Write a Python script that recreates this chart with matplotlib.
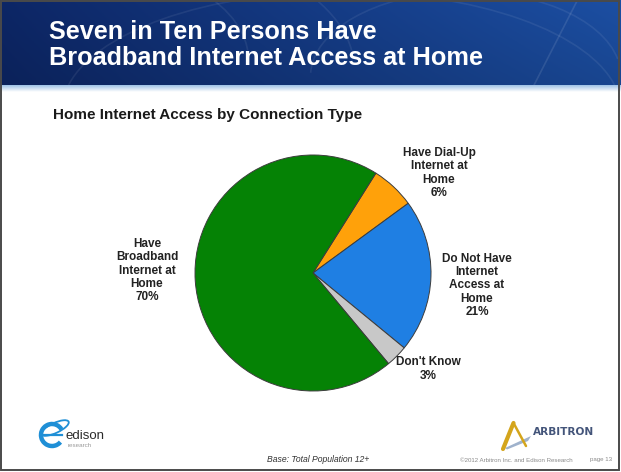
import numpy as np
import matplotlib
matplotlib.use("Agg")
import matplotlib.pyplot as plt
from matplotlib.patches import Rectangle, Arc, Ellipse, Polygon
from matplotlib.lines import Line2D

# ---- data ----
categories = ["Have Dial-Up\nInternet at\nHome",
              "Do Not Have\nInternet\nAccess at\nHome",
              "Don't Know",
              "Have\nBroadband\nInternet at\nHome"]
shares = [6, 21, 3, 70]
slice_colors = ["#ffa10a", "#1f7fe3", "#c8c8c8", "#058205"]

title_lines = ["Seven in Ten Persons Have", "Broadband Internet Access at Home"]
subtitle = "Home Internet Access by Connection Type"
base_note = "Base: Total Population 12+"
copyright_note = "\u00a92012 Arbitron Inc. and Edison Research"
page_note = "page 13"

W, H = 621, 472
fig = plt.figure(figsize=(W / 100, H / 100), dpi=100)
fig.patch.set_facecolor("white")
FONT = "Liberation Sans"


def fx(x):
    return x / W


def fy(y):
    return 1 - y / H


# ---- header band ----
hdr = fig.add_axes([0, fy(85), 1, 85 / H])
hdr.set_axis_off()
gx = np.linspace(0, 1, 256)
gy = np.linspace(0, 1, 64)
GX, GY = np.meshgrid(gx, gy)
left = np.array([0.05, 0.15, 0.40])
right = np.array([0.11, 0.31, 0.64])
t = GX[..., None]
img = left * (1 - t) + right * t
img = img * (0.88 + 0.12 * GY[..., None])
hdr.imshow(img, extent=[0, 1, 0, 1], aspect="auto", origin="lower")
for cx, cy, w, h, a1, a2 in [(0.10, 0.3, 0.6, 2.4, 20, 160),
                              (0.12, 0.2, 0.9, 3.2, 25, 150),
                              (0.55, -0.3, 0.9, 2.8, 30, 150),
                              (0.75, 0.1, 0.5, 2.0, 40, 170)]:
    hdr.add_patch(Arc((cx, cy), w, h, theta1=a1, theta2=a2,
                      color="white", alpha=0.07, lw=1.2))
hdr.add_line(Line2D([0.86, 0.93], [0.0, 1.0], color="white", alpha=0.1, lw=1.2))
hdr.set_xlim(0, 1)
hdr.set_ylim(0, 1)

strip = fig.add_axes([0, fy(92), 1, 7 / H])
strip.set_axis_off()
sv = np.linspace(0, 1, 32)[:, None, None]
top_c = np.array([0.62, 0.76, 0.90])
strip.imshow(top_c * sv + np.ones(3) * (1 - sv), extent=[0, 1, 0, 1],
             aspect="auto", origin="lower")

fig.text(fx(49), fy(32), title_lines[0], color="white", fontsize=18.2,
         fontweight="bold", family=FONT, ha="left", va="center")
fig.text(fx(49), fy(58), title_lines[1], color="white", fontsize=18.2,
         fontweight="bold", family=FONT, ha="left", va="center")

fig.text(fx(53), fy(115), subtitle, color="#1a1a1a", fontsize=11,
         fontweight="bold", family=FONT, ha="left", va="center")

# ---- pie ----
cx, cy, r = 313, 273, 118
ax = fig.add_axes([fx(cx - r), fy(cy + r), 2 * r / W, 2 * r / H])
ax.pie(shares, colors=slice_colors, startangle=57.8, counterclock=False,
       radius=1.0, wedgeprops=dict(edgecolor="#3c3c3c", linewidth=0.7))
ax.set_xlim(-1, 1)
ax.set_ylim(-1, 1)
ax.set_axis_off()

label_pos = [(439, 173), (477, 285.5), (428, 369), (147, 270.5)]
for name, val, (lx, ly) in zip(categories, shares, label_pos):
    fig.text(fx(lx), fy(ly), f"{name}\n{val}%", color="#222222",
             fontsize=8.5, fontweight="bold", family=FONT,
             ha="center", va="center", linespacing=1.15)

# ---- footer ----
fig.text(fx(318), fy(460), base_note, color="#333333", fontsize=6.2,
         style="italic", family=FONT, ha="center", va="center")
fig.text(fx(460), fy(460), copyright_note, color="#8a8a8a", fontsize=4.4,
         family=FONT, ha="left", va="center")
fig.text(fx(590), fy(460), page_note, color="#8a8a8a", fontsize=4.4,
         family=FONT, ha="left", va="center")

# edison logo
logo = fig.add_axes([0, 0, 1, 1], facecolor="none")
logo.set_axis_off()
logo.set_xlim(0, W)
logo.set_ylim(H, 0)
logo.add_patch(Arc((52, 435), 22, 22, theta1=40, theta2=330,
                   color="#1f8fd6", lw=3.2))
logo.add_patch(Ellipse((55, 428), 30, 10, angle=-25, fill=False,
                       edgecolor="#1f8fd6", lw=1.3))
logo.add_line(Line2D([44, 62], [435, 435], color="#1f8fd6", lw=1.6))
logo.text(65, 436, "edison", color="#2b2b2b", fontsize=9.5, family=FONT,
          ha="left", va="center")
logo.text(68, 445.5, "research", color="#9a9a9a", fontsize=4.5, family=FONT,
          ha="left", va="center")

# arbitron logo
logo.add_line(Line2D([503, 513.5], [449, 423], color="#d4a51c", lw=3.0,
                     solid_capstyle="round"))
logo.add_line(Line2D([513.5, 526], [423, 446], color="#d4a51c", lw=1.8,
                     solid_capstyle="round"))
logo.add_patch(Polygon([[505, 448], [531, 436], [528, 441], [507, 449.5]],
                       closed=True, facecolor="#9fb2cc", edgecolor="none"))
logo.text(533, 432, "ARBITRON", color="#44557a", fontsize=7.6,
          fontweight="bold", family="DejaVu Sans", ha="left", va="center")

# slide frame
logo.add_patch(Rectangle((0.8, 0.8), W - 2.5, H - 2.8, fill=False,
                         edgecolor="#4a4a4a", lw=1.4))

fig.savefig("out.png", dpi=100)
